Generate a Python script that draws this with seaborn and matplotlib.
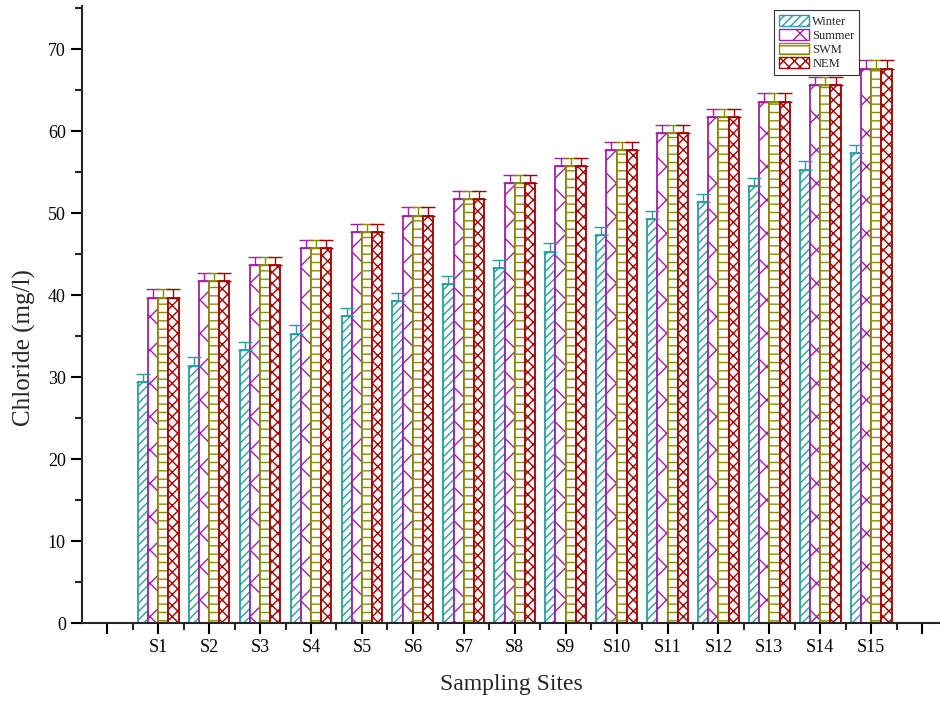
import matplotlib
matplotlib.use("Agg")
import matplotlib.pyplot as plt
from matplotlib.ticker import MultipleLocator, FixedLocator
from matplotlib.container import BarContainer
from matplotlib.patches import Patch
import seaborn as sns
import pandas as pd
import numpy as np

sites = ["S1", "S2", "S3", "S4", "S5", "S6", "S7", "S8", "S9", "S10",
         "S11", "S12", "S13", "S14", "S15"]
seasons = ["Winter", "Summer", "SWM", "NEM"]
winter = [29.4, 31.4, 33.3, 35.3, 37.4, 39.3, 41.3, 43.3, 45.3, 47.3, 49.3, 51.3, 53.3, 55.3, 57.3]
summer = [39.7, 41.7, 43.7, 45.7, 47.7, 49.7, 51.7, 53.7, 55.7, 57.7, 59.7, 61.7, 63.6, 65.6, 67.6]
swm = [39.7, 41.7, 43.7, 45.7, 47.7, 49.7, 51.7, 53.7, 55.7, 57.7, 59.7, 61.7, 63.6, 65.6, 67.6]
nem = [39.7, 41.7, 43.7, 45.7, 47.7, 49.7, 51.7, 53.7, 55.7, 57.7, 59.7, 61.7, 63.6, 65.6, 67.6]
err = [1.0, 1.0, 1.0, 1.0]

colors = ["#2a9d9d", "#a020a8", "#8a8a00", "#a00000"]
hatches = ["////", "x", "--", "xxx"]

sns.set_style("ticks")
plt.rcParams["font.family"] = ["Liberation Serif", "DejaVu Serif"]
plt.rcParams["hatch.linewidth"] = 1.0

rows = []
for s, vals in zip(seasons, [winter, summer, swm, nem]):
    for site, v in zip(sites, vals):
        rows.append({"Site": site, "Season": s, "Value": v})
df = pd.DataFrame(rows)

fig = plt.figure(figsize=(9.4, 7.05), dpi=100)
ax = fig.add_axes([0.087, 0.116, 0.913, 0.875])

# place categories at x = 1..15 by adding padding category at 0
order = [""] + sites
sns.barplot(data=df, x="Site", y="Value", hue="Season", order=order,
            hue_order=seasons, palette=colors, width=0.8, errorbar=None,
            ax=ax, legend=False)

bar_conts = [c for c in ax.containers if isinstance(c, BarContainer)]
for i, cont in enumerate(bar_conts):
    for p in cont.patches:
        p.set_facecolor("white")
        p.set_edgecolor(colors[i])
        p.set_hatch(hatches[i])
        p.set_linewidth(1.3)
    xs = [p.get_x() + p.get_width() / 2 for p in cont.patches if p.get_height() > 0]
    hs = [p.get_height() for p in cont.patches if p.get_height() > 0]
    ax.errorbar(xs, hs, yerr=[np.zeros(len(hs)), np.full(len(hs), err[i])],
                fmt="none", ecolor=colors[i], elinewidth=1.0, capsize=5, capthick=1.0)

ax.set_xlim(-0.5, 16.35)
ax.set_ylim(0, 75.2)
ax.xaxis.set_major_locator(FixedLocator(range(0, 17)))
ax.set_xticklabels([""] + sites + [""])
ax.xaxis.set_minor_locator(FixedLocator(np.arange(0.5, 16.5, 1.0)))
ax.yaxis.set_major_locator(MultipleLocator(10))
ax.yaxis.set_minor_locator(MultipleLocator(5))
ax.tick_params(axis="both", which="major", direction="out", length=8, width=1.5,
               labelsize=13, colors="black")
ax.tick_params(axis="both", which="minor", direction="out", length=5, width=1.5)
for sp in ["top", "right"]:
    ax.spines[sp].set_visible(False)
for sp in ["left", "bottom"]:
    ax.spines[sp].set_linewidth(1.5)
ax.set_xlabel("Sampling Sites", fontsize=17, labelpad=13)
ax.set_ylabel("Chloride (mg/l)", fontsize=18)
ax.yaxis.set_label_coords(-0.053, 0.447)

handles = [Patch(facecolor="white", edgecolor=c, hatch=h, linewidth=1.0)
           for c, h in zip(colors, hatches)]
leg = ax.legend(handles, seasons, loc="upper left", bbox_to_anchor=(0.806, 0.9935),
                borderaxespad=0,
                fontsize=9, frameon=True, fancybox=False, edgecolor="black",
                handlelength=2.4, handleheight=0.9, handletextpad=0.3,
                labelspacing=0.12, borderpad=0.4)
leg.get_frame().set_linewidth(0.8)

fig.savefig("out.png", dpi=100)
